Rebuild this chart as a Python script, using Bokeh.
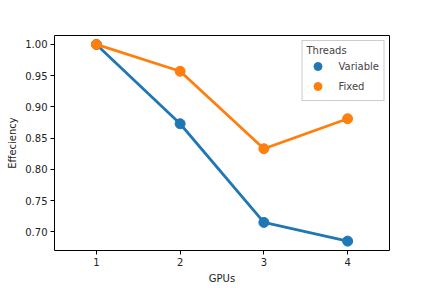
from bokeh.plotting import figure
from bokeh.models import Range1d, FixedTicker, PrintfTickFormatter, Legend, LegendItem
from bokeh.embed import file_html
from bokeh.resources import INLINE

gpus = [1, 2, 3, 4]
variable = [1.000, 0.873, 0.715, 0.685]
fixed = [1.000, 0.957, 0.833, 0.881]
series_names = ["Variable", "Fixed"]
colors = ["#1f77b4", "#ff7f0e"]
y_ticks = [0.70, 0.75, 0.80, 0.85, 0.90, 0.95, 1.00]

p = figure(width=424, height=286, output_backend="svg", toolbar_location=None,
           x_range=Range1d(0.5, 4.5), y_range=Range1d(0.670, 1.0143),
           min_border_left=54, min_border_right=35, min_border_top=35, min_border_bottom=34)

p.xgrid.visible = False
p.ygrid.visible = False
p.outline_line_color = "black"
p.outline_line_width = 1
p.background_fill_color = "white"
p.border_fill_color = "white"

font = "DejaVu Sans"
for ax in [p.xaxis[0], p.yaxis[0]]:
    ax.axis_line_color = None
    ax.major_tick_in = 0
    ax.major_tick_out = 4
    ax.minor_tick_line_color = None
    ax.major_tick_line_color = "black"
    ax.major_label_text_font = font
    ax.major_label_text_font_size = "10px"
    ax.major_label_text_color = "#222222"
    ax.axis_label_text_font = font
    ax.axis_label_text_font_size = "10px"
    ax.axis_label_text_font_style = "normal"
    ax.axis_label_text_color = "#222222"
    ax.major_label_standoff = 3
    ax.axis_label_standoff = 4

p.xaxis.ticker = FixedTicker(ticks=gpus)
p.yaxis.ticker = FixedTicker(ticks=y_ticks)
p.yaxis.formatter = PrintfTickFormatter(format="%.2f")
p.xaxis.axis_label = "GPUs"
p.yaxis.axis_label = "Effeciency"

items = []
for vals, name, c in zip([variable, fixed], series_names, colors):
    p.line(gpus, vals, line_color=c, line_width=2.8)
    r = p.scatter(gpus, vals, size=10, fill_color=c, line_color=c, marker="circle")
    items.append(LegendItem(label=name, renderers=[r]))

legend = Legend(items=items, title="Threads", location="top_right",
                label_text_font=font, label_text_font_size="10px",
                title_text_font=font, title_text_font_size="10px", title_text_font_style="normal",
                border_line_color="#cccccc", border_line_alpha=1.0,
                background_fill_alpha=0.8, margin=5, padding=4, spacing=0,
                label_height=16, glyph_height=20, glyph_width=22, label_standoff=10,
                title_standoff=0)
p.add_layout(legend)

open("out.html", "w").write(file_html(p, INLINE))
